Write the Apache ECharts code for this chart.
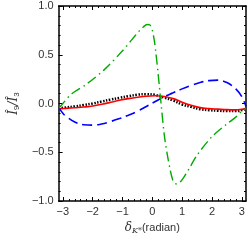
<!DOCTYPE html>
<html><head><meta charset="utf-8">
<script src="https://cdn.jsdelivr.net/npm/echarts@6/dist/echarts.min.js"></script>
<style>html,body{margin:0;padding:0;background:#fff}#c{width:249px;height:240px}</style>
</head><body><div id="c"></div>
<script>
const PI = Math.PI;
const xMajor = [-3, -2, -1, 0, 1, 2, 3];
const xMinor = [-3.0,-2.8,-2.6,-2.4,-2.2,-2.0,-1.8,-1.6,-1.4,-1.2,-1.0,-0.8,-0.6,-0.4,-0.2,0,0.2,0.4,0.6,0.8,1.0,1.2,1.4,1.6,1.8,2.0,2.2,2.4,2.6,2.8,3.0];
const yMajor = [-1.0, -0.5, 0.0, 0.5, 1.0];
const yMinor = [-0.9,-0.8,-0.7,-0.6,-0.4,-0.3,-0.2,-0.1,0.1,0.2,0.3,0.4,0.6,0.7,0.8,0.9];

const redX = [-3.1416,-2.9,-2.6,-2.3,-2.0,-1.7,-1.4,-1.1,-0.8,-0.5,-0.2,0.1,0.4,0.7,1.0,1.3,1.6,1.9,2.2,2.5,2.8,3.0,3.1416];
const redY = [-0.055,-0.05,-0.043,-0.036,-0.026,-0.008,0.012,0.033,0.05,0.064,0.075,0.079,0.072,0.05,0.014,-0.017,-0.042,-0.053,-0.058,-0.063,-0.065,-0.06,-0.055];

const blackX = [-3.1416,-2.9,-2.6,-2.3,-2.0,-1.7,-1.4,-1.1,-0.8,-0.5,-0.2,0.1,0.4,0.7,1.0,1.3,1.6,1.9,2.2,2.5,2.8,3.0,3.1416];
const blackY = [-0.05,-0.04,-0.03,-0.015,0.0,0.02,0.04,0.058,0.075,0.09,0.095,0.088,0.06,0.03,-0.01,-0.035,-0.058,-0.068,-0.074,-0.078,-0.078,-0.068,-0.055];

const blueX = [-3.1416,-3.0,-2.9,-2.6,-2.3,-2.0,-1.7,-1.4,-1.1,-0.8,-0.5,-0.2,0.1,0.4,0.7,1.0,1.3,1.6,1.9,2.2,2.5,2.8,3.0,3.1416];
const blueY = [-0.04,-0.1,-0.13,-0.19,-0.218,-0.222,-0.21,-0.185,-0.155,-0.12,-0.08,-0.03,0.02,0.07,0.11,0.15,0.185,0.215,0.235,0.24,0.215,0.15,0.07,-0.03];

const greenX = [-3.1416,-3.0,-2.7,-2.2,-1.6,-1.0,-0.7,-0.45,-0.3,-0.18,-0.08,0.0,0.06,0.12,0.2,0.3,0.4,0.5,0.6,0.67,0.74,0.82,0.92,1.05,1.25,1.5,2.0,2.5,2.8,3.0,3.1416];
const greenY = [-0.05,0.0,0.1,0.2,0.35,0.54,0.65,0.74,0.785,0.81,0.805,0.75,0.66,0.52,0.29,-0.02,-0.32,-0.52,-0.68,-0.77,-0.815,-0.825,-0.81,-0.76,-0.66,-0.53,-0.34,-0.21,-0.14,-0.08,-0.05];

const pairs = (xs, ys) => xs.map((x, i) => [x, ys[i]]);
const minus = v => String(v).replace('-', '\u2212');
const fmtY = v => minus(v.toFixed(1));
const font = 'Liberation Sans, Arial, sans-serif';
const labelColor = '#333';

function xAx(pos, ticks, len, showLine, showLabel) {
  return {
    type: 'value', min: -PI, max: PI, position: pos, gridIndex: 0,
    axisLine: { show: showLine, onZero: false, lineStyle: { color: '#000', width: 1.5 } },
    axisTick: { show: true, inside: true, length: len, customValues: ticks, lineStyle: { color: '#000', width: 1 } },
    axisLabel: showLabel ? { show: true, customValues: ticks, formatter: v => minus(Math.round(v)), color: labelColor, fontSize: 11, fontFamily: font, margin: 5 } : { show: false },
    splitLine: { show: false }
  };
}
function yAx(pos, ticks, len, showLine, showLabel) {
  return {
    type: 'value', min: -1, max: 1, position: pos, gridIndex: 0,
    axisLine: { show: showLine, onZero: false, lineStyle: { color: '#000', width: 1.5 } },
    axisTick: { show: true, inside: true, length: len, customValues: ticks, lineStyle: { color: '#000', width: 1 } },
    axisLabel: showLabel ? { show: true, customValues: ticks, formatter: fmtY, color: labelColor, fontSize: 11, fontFamily: font, margin: 5 } : { show: false },
    splitLine: { show: false }
  };
}

const xAxes = [
  Object.assign(xAx('bottom', xMajor, 4, true, true), {
    name: '{d|δ}{k|K*}{r|(radian)}', nameLocation: 'middle', nameGap: 20,
    nameTextStyle: { rich: {
      d: { fontSize: 12, fontStyle: 'italic', fontFamily: 'DejaVu Serif, serif', color: labelColor },
      k: { fontSize: 8, fontStyle: 'italic', fontFamily: 'DejaVu Serif, serif', color: labelColor, verticalAlign: 'bottom', padding: [6, 0, 0, 0] },
      r: { fontSize: 11, fontFamily: font, color: labelColor }
    } }
  }),
  xAx('bottom', xMinor, 2, false, false),
  xAx('top', xMajor, 4, true, false),
  xAx('top', xMinor, 2, false, false)
];
const yAxes = [
  Object.assign(yAx('left', yMajor, 4, true, true), {
    name: '{i|Î}{s|9}{i|/Î}{s|3}', nameLocation: 'middle', nameGap: 37, nameRotate: 90,
    nameTextStyle: { rich: {
      i: { fontSize: 12, fontStyle: 'italic', fontFamily: 'DejaVu Serif, serif', color: labelColor },
      s: { fontSize: 8, fontFamily: font, color: labelColor, verticalAlign: 'bottom', padding: [6, 0, 0, 0] }
    } }
  }),
  yAx('left', yMinor, 2, false, false),
  yAx('right', yMajor, 4, true, false),
  yAx('right', yMinor, 2, false, false)
];

const chart = echarts.init(document.getElementById('c'), null, { renderer: 'canvas' });
chart.setOption({
  animation: false,
  backgroundColor: '#fff',
  grid: { left: 46, right: 3, top: 6, bottom: 33, containLabel: false },
  xAxis: xAxes,
  yAxis: yAxes,
  series: [
    { type: 'line', data: pairs(blackX, blackY), smooth: 0.4, showSymbol: false, lineStyle: { color: '#000', width: 2.5, type: [1.5, 1.5] }, z: 2 },
    { type: 'line', data: pairs(redX, redY), smooth: 0.4, showSymbol: false, lineStyle: { color: '#ff0000', width: 1.6 }, z: 3 },
    { type: 'line', data: pairs(blueX, blueY), smooth: 0.4, showSymbol: false, lineStyle: { color: '#0000ff', width: 1.6, type: [10, 5] }, z: 4 },
    { type: 'line', data: pairs(greenX, greenY), smooth: 0.3, showSymbol: false, lineStyle: { color: '#00aa00', width: 1.4, type: [10, 4, 1.5, 4] }, z: 5 }
  ]
});
</script>
</body></html>
